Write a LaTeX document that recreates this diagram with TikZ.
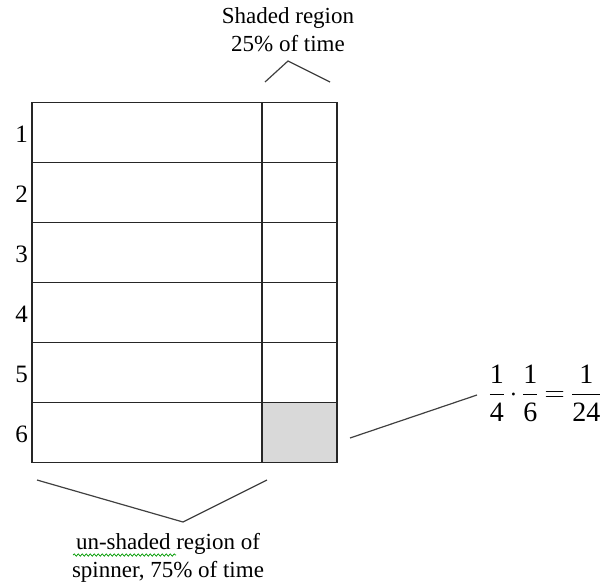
\RequirePackage{fix-cm}
\documentclass[tikz,border=0pt]{standalone}
\usepackage{fontspec}
\setmainfont{Liberation Serif}
\usepackage{amsmath}
\usetikzlibrary{positioning, decorations.pathmorphing}

\begin{document}
\begin{tikzpicture}[
x=1pt, y=-1pt,
cell/.style={rectangle, draw=black!85, line width=1.3pt, inner sep=0pt, outer sep=0pt, minimum height=60},
wide/.style={cell, minimum width=230},
narrow/.style={cell, minimum width=75},
rowno/.style={font=\fontsize{25}{30}\selectfont, inner sep=0pt},
caption/.style={font=\fontsize{23}{28}\selectfont, align=center, inner sep=0pt},
brace/.style={draw=black!75, line width=1.2pt},
spell/.style={draw=green!60!black, line width=0.7pt, decorate, decoration={snake, amplitude=1.2pt, segment length=4pt}},
node distance=0pt
]
\useasboundingbox (0,0) rectangle (602,584);

%Nodes
\node[wide]   (L1)  at (147,132.5)     {};
\node[wide]   (L2)  [below=of L1]      {};
\node[wide]   (L3)  [below=of L2]      {};
\node[wide]   (L4)  [below=of L3]      {};
\node[wide]   (L5)  [below=of L4]      {};
\node[wide]   (L6)  [below=of L5]      {};

\node[narrow] (R1)  [right=of L1]      {};
\node[narrow] (R2)  [right=of L2]      {};
\node[narrow] (R3)  [right=of L3]      {};
\node[narrow] (R4)  [right=of L4]      {};
\node[narrow] (R5)  [right=of L5]      {};
\node[narrow, fill=black!15] (R6) [right=of L6] {};

\foreach \i in {1,...,6}
  \node[rowno, left=4pt of L\i.west, yshift=-2pt] (N\i) {\i};

\node[caption] (shaded)   at (288,30)  {Shaded region\\25\% of time};
\node[caption] (unshaded) at (168,558) {un-shaded region of\\spinner, 75\% of time};
\node[font=\fontsize{28}{34}\selectfont, inner sep=0pt] (prod) at (545,393)
  {$\dfrac{\text{1}}{\text{4}}\,{\cdot}\,\dfrac{\text{1}}{\text{6}}\:{=}\:\dfrac{\text{1}}{\text{24}}$};

%Coordinates
\coordinate (ta) at (265,82);
\coordinate (tb) at (288,61);
\coordinate (tc) at (330,82);
\coordinate (ba) at (37,480);
\coordinate (bb) at (183,522);
\coordinate (bc) at (267,480);
\coordinate (pa) at (350,438);
\coordinate (pb) at (477,395);
\coordinate (sa) at (73,555);
\coordinate (sb) at (176,555);

%Lines
\draw[brace] (ta) -- (tb) -- (tc);
\draw[brace] (ba) -- (bb) -- (bc);
\draw[brace] (pa) -- (pb);
\draw[spell] (sa) -- (sb);
\end{tikzpicture}
\end{document}
